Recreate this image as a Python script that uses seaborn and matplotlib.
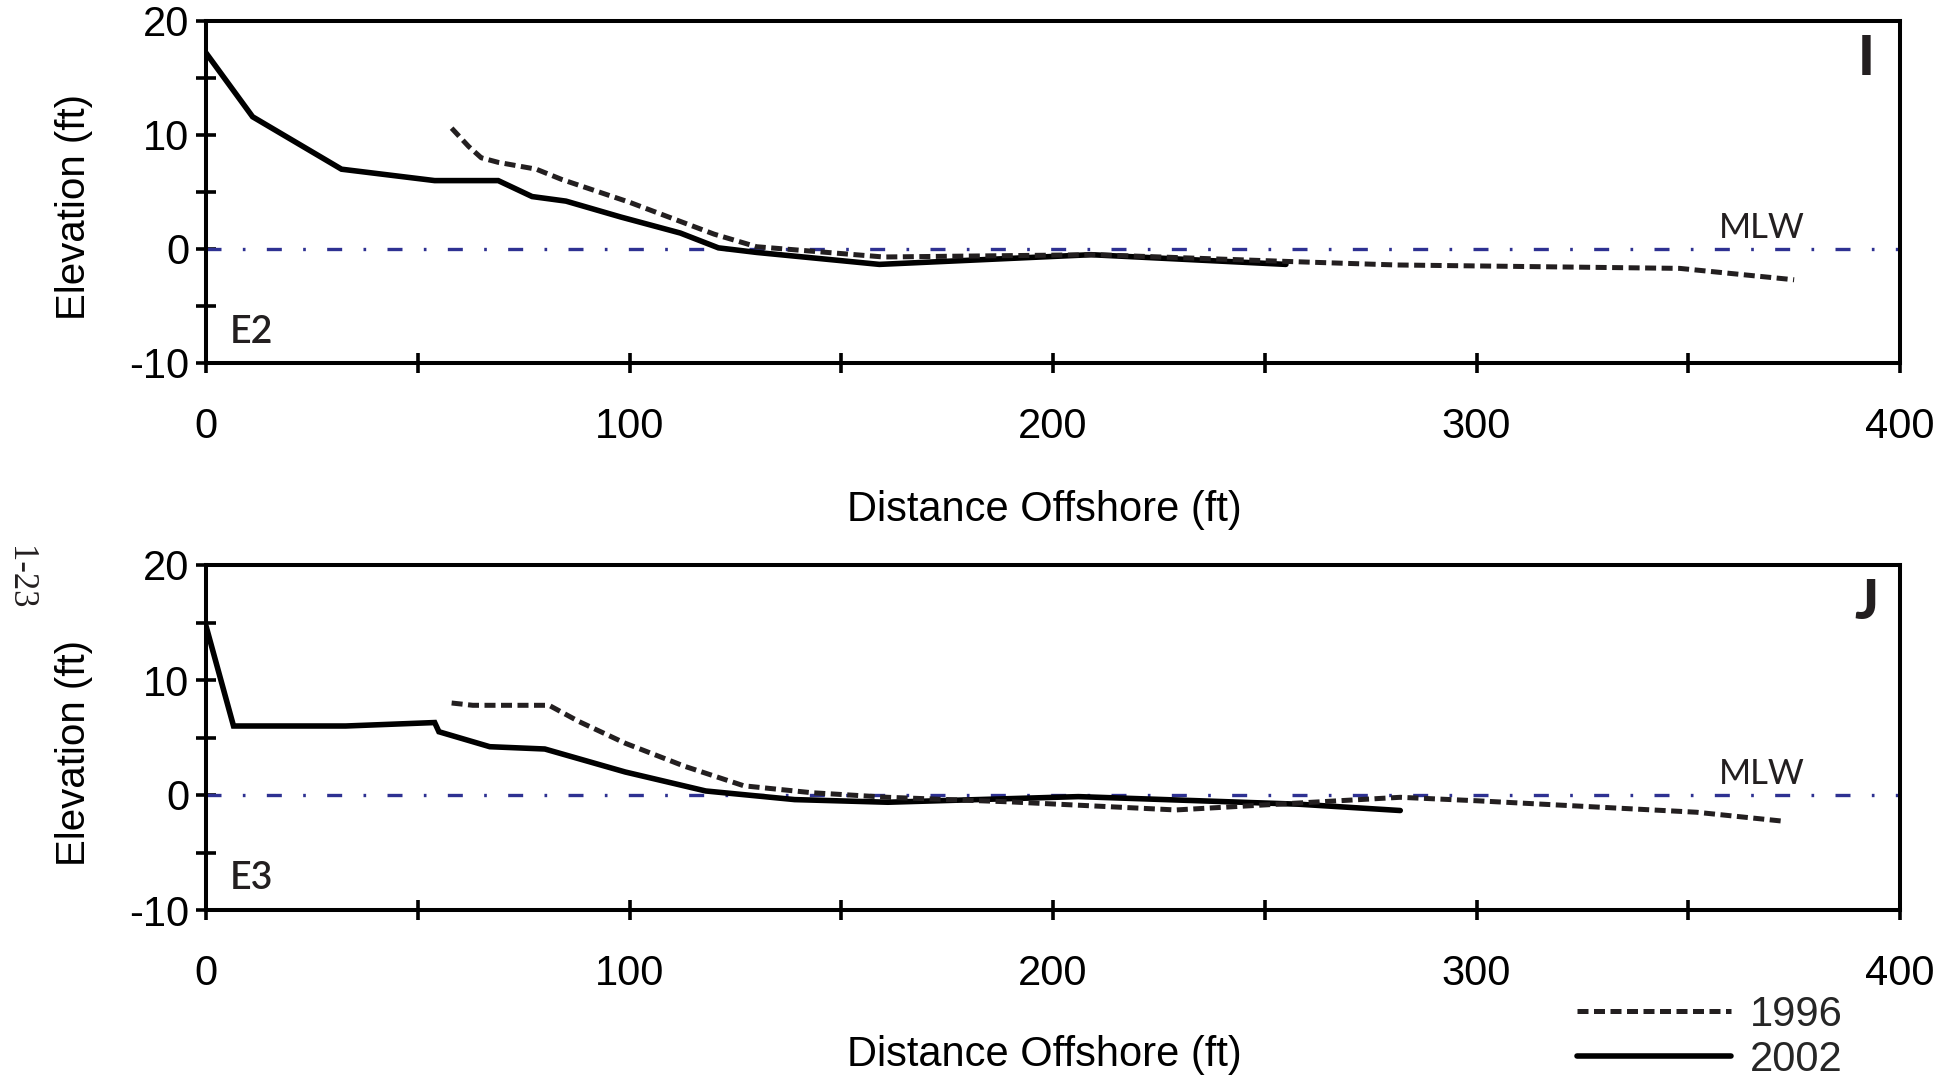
import matplotlib
matplotlib.use("Agg")
import matplotlib.pyplot as plt
import pandas as pd
import seaborn as sns

# Beach profile E2 (panel I)
e2_1996_dist = [58, 62, 65, 69, 78, 84, 100, 120, 130, 160, 210, 256, 281, 348, 375]
e2_1996_elev = [10.6, 9.0, 8.0, 7.6, 7.0, 6.1, 4.1, 1.3, 0.2, -0.7, -0.5, -1.1, -1.4, -1.7, -2.7]
e2_2002_dist = [0, 11, 32, 54, 69, 77, 85, 98, 112, 121, 130, 159, 209, 255]
e2_2002_elev = [17.2, 11.6, 7.0, 6.0, 6.0, 4.6, 4.2, 2.8, 1.4, 0.1, -0.3, -1.35, -0.5, -1.35]

# Beach profile E3 (panel J)
e3_1996_dist = [58, 63, 81, 88, 99, 113, 127, 143, 161, 190, 229, 253, 282, 300, 352, 373]
e3_1996_elev = [8.0, 7.8, 7.8, 6.4, 4.5, 2.5, 0.8, 0.2, -0.2, -0.6, -1.3, -0.8, -0.2, -0.5, -1.5, -2.3]
e3_2002_dist = [0, 6.5, 33, 54, 55, 67, 80, 99, 118, 139, 161, 206, 258, 282]
e3_2002_elev = [14.7, 6.0, 6.0, 6.3, 5.5, 4.2, 4.0, 2.0, 0.35, -0.4, -0.63, -0.14, -0.8, -1.35]

survey_years = ["1996", "2002"]
profile_names = ["E2", "E3"]
panel_letters = ["I", "J"]

x_ticks = [0, 50, 100, 150, 200, 250, 300, 350, 400]
x_ticklabels = ["0", "", "100", "", "200", "", "300", "", "400"]
y_ticks = [-10, -5, 0, 5, 10, 15, 20]
y_ticklabels = ["-10", "", "0", "", "10", "", "20"]
mlw_level = 0

sns.set_style("white")
plt.rcParams["font.family"] = ["Liberation Sans", "DejaVu Sans"]

FIG_W, FIG_H = 1960, 1084
fig = plt.figure(figsize=(FIG_W / 100, FIG_H / 100), dpi=100)

LEFT = 206 / FIG_W
WIDTH = 1694 / FIG_W
ax_top = fig.add_axes([LEFT, 1 - 363 / FIG_H, WIDTH, 342 / FIG_H])
ax_bot = fig.add_axes([LEFT, 1 - 910 / FIG_H, WIDTH, 345 / FIG_H])

INK = "#231f20"
MLW_BLUE = "#2e3192"
TICK_FS = 30
LABEL_FS = 30
ANNOT_FONT = ["Lato", "DejaVu Sans"]

profiles = [
    (ax_top, e2_1996_dist, e2_1996_elev, e2_2002_dist, e2_2002_elev, -0.43),
    (ax_bot, e3_1996_dist, e3_1996_elev, e3_2002_dist, e3_2002_elev, -0.42),
]

for i, (ax, d96, z96, d02, z02, xlab_y) in enumerate(profiles):
    df96 = pd.DataFrame({"dist": d96, "elev": z96})
    df02 = pd.DataFrame({"dist": d02, "elev": z02})

    # mean low water reference
    ax.axhline(mlw_level, color=MLW_BLUE, lw=2.4, dashes=(4.5, 6.4, 0.8, 6.4),
               dash_capstyle="butt", zorder=1)

    sns.lineplot(data=df96, x="dist", y="elev", ax=ax, color=INK, lw=3.6,
                 linestyle=(0, (2.2, 1.1)), sort=False, estimator=None,
                 label=survey_years[0], zorder=3)
    sns.lineplot(data=df02, x="dist", y="elev", ax=ax, color="black", lw=4.0,
                 sort=False, estimator=None, label=survey_years[1], zorder=2)
    for ln in ax.get_lines():
        ln.set_dash_capstyle("butt")
        ln.set_solid_joinstyle("miter")

    leg = ax.get_legend()
    if leg is not None:
        leg.remove()

    ax.set_xlim(0, 400)
    ax.set_ylim(-10, 20)
    ax.set_xticks(x_ticks)
    ax.set_xticklabels(x_ticklabels)
    ax.set_yticks(y_ticks)
    ax.set_yticklabels(y_ticklabels)
    ax.tick_params(axis="both", which="major", bottom=True, left=True,
                   top=False, right=False, direction="inout", length=14,
                   width=2.6, color="black", labelsize=TICK_FS,
                   labelcolor="black")
    ax.tick_params(axis="x", pad=25)
    ax.tick_params(axis="y", pad=5)
    for sp in ax.spines.values():
        sp.set_visible(True)
        sp.set_linewidth(2.9)
        sp.set_color("black")

    ax.set_xlabel("Distance Offshore (ft)", fontsize=LABEL_FS, color="black")
    ax.set_ylabel("Elevation (ft)", fontsize=29, color="black")
    ax.xaxis.label.set_va("center")
    ax.yaxis.label.set_va("center")
    ax.xaxis.set_label_coords(0.495, xlab_y)
    ax.yaxis.set_label_coords(-0.078, 0.455)

    ax.text(0.014, 0.09, profile_names[i], transform=ax.transAxes, ha="left",
            va="center", fontsize=27, family=ANNOT_FONT, color=INK, fontweight="semibold")
    ax.text(0.9185, 0.395, "MLW", transform=ax.transAxes, ha="center",
            va="center", fontsize=25, family=ANNOT_FONT, color=INK)
    ax.text(0.98, 0.89, panel_letters[i], transform=ax.transAxes, ha="center",
            va="center", fontsize=40, family=ANNOT_FONT, color=INK, fontweight="black")

# survey legend under the lower panel
handles = ax_bot.get_lines()[1:3]
fig.legend(handles, survey_years, loc="upper left",
           bbox_to_anchor=(1577 / FIG_W, 1 - 995 / FIG_H), frameon=False,
           fontsize=TICK_FS, handlelength=3.7, handletextpad=0.45,
           labelspacing=0.12, borderpad=0, borderaxespad=0)

# page number in the margin
fig.text(19 / FIG_W, 1 - 578 / FIG_H, "1-23", rotation=-90, ha="center",
         va="center", fontsize=25, family=["Liberation Serif", "DejaVu Serif"],
         color=INK)

fig.savefig("out.png", dpi=100, facecolor="white")
